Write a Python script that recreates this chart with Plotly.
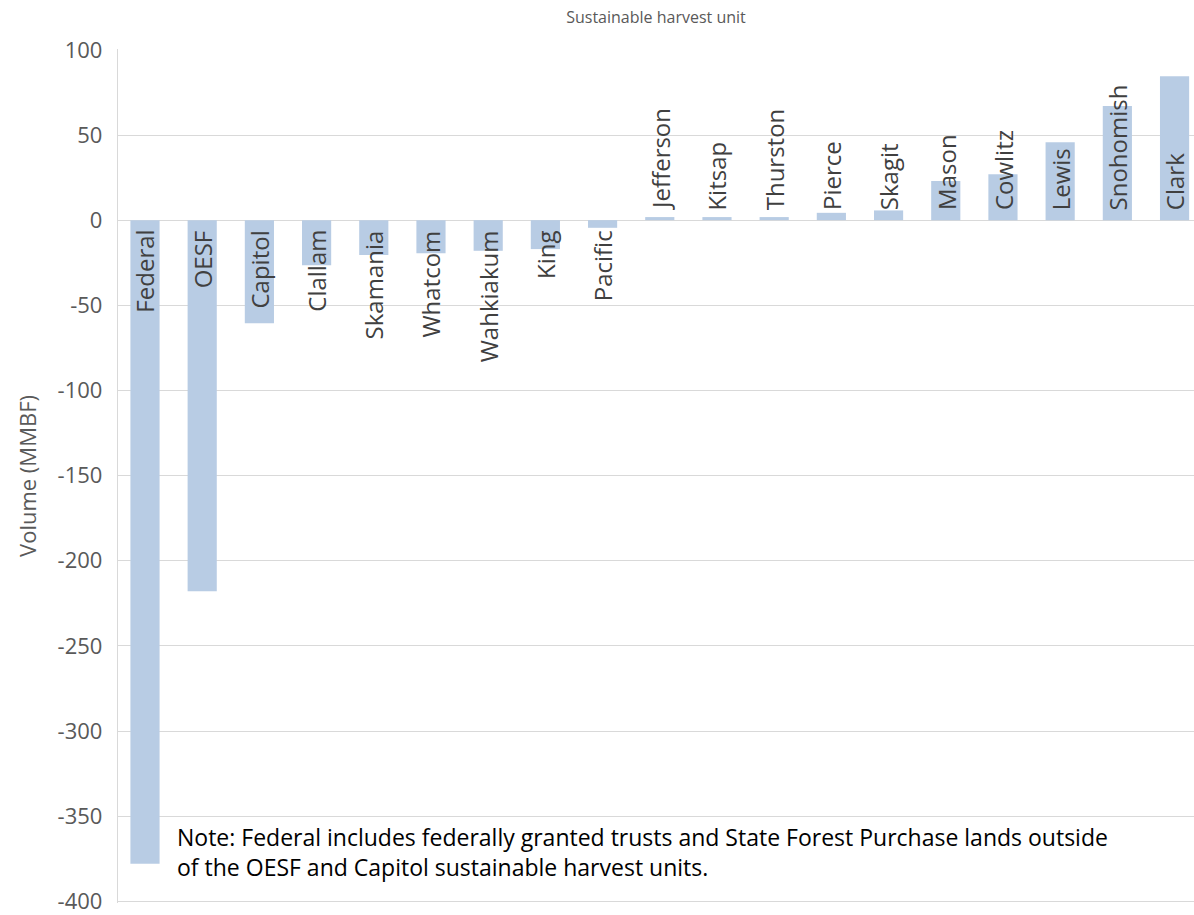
import plotly.graph_objects as go

# Change in harvest volume by sustainable harvest unit (MMBF)
units = ["Federal", "OESF", "Capitol", "Clallam", "Skamania", "Whatcom", "Wahkiakum",
         "King", "Pacific", "Jefferson", "Kitsap", "Thurston", "Pierce", "Skagit",
         "Mason", "Cowlitz", "Lewis", "Snohomish", "Clark"]
volume = [-378, -218, -60.5, -26.5, -20.5, -19.5, -18, -17, -4.5,
          1.8, 1.8, 1.8, 4.3, 5.7, 23, 27, 45.7, 67, 84.5]
y_ticks = [100, 50, 0, -50, -100, -150, -200, -250, -300, -350, -400]
y_tick_text = ["100", "50", "0", "-50", "-100", "-150", "-200", "-250", "-300", "-350", "-400"]

note = ("Note: Federal includes federally granted trusts and State Forest Purchase lands outside<br>"
        "of the OESF and Capitol sustainable harvest units.")

FONT = "Open Sans"
BAR = "#B8CCE4"
GRID = "#D9D9D9"

fig = go.Figure(go.Bar(x=units, y=volume, marker=dict(color=BAR, line=dict(width=0)),
                       hoverinfo="x+y"))

# Category names sit inside the bars, rotated, next to the zero line
for name, v in zip(units, volume):
    fig.add_annotation(x=name, y=0, xref="x", yref="y", text=name, textangle=-90,
                       showarrow=False, font=dict(family=FONT, size=24, color="#404040"),
                       yanchor="top" if v < 0 else "bottom",
                       yshift=-8 if v < 0 else 8)

fig.add_annotation(x=0.053, y=0.06, xref="paper", yref="paper", text=note,
                   showarrow=False, xanchor="left", yanchor="middle", align="left",
                   font=dict(family=FONT, size=23, color="#000000"))

fig.update_layout(
    width=1194, height=915,
    margin=dict(l=118, r=0, t=49, b=10),
    paper_bgcolor="white", plot_bgcolor="white",
    bargap=0.49,
    showlegend=False,
    title=dict(text="Sustainable harvest unit", x=0.5, xref="paper",
               y=1 - 17 / 915, yref="container", yanchor="middle", xanchor="center",
               font=dict(family=FONT, size=16, color="#595959")),
    xaxis=dict(range=[-0.472, 18.34], showticklabels=False, showgrid=False,
               zeroline=False, showline=False, fixedrange=True),
    yaxis=dict(range=[-401, 100.5], tickvals=y_ticks, ticktext=y_tick_text,
               showgrid=True, gridcolor=GRID,
               gridwidth=1.3, zeroline=True, zerolinecolor=GRID, zerolinewidth=1.3,
               showline=True, linecolor=GRID, linewidth=1.3,
               tickfont=dict(family=FONT, size=22, color="#595959"),
               ticklabelstandoff=10, ticklabeloverflow="allow",
               title=dict(text="Volume (MMBF)", standoff=14,
                          font=dict(family=FONT, size=22, color="#595959"))),
)

fig.write_html("out.html")
